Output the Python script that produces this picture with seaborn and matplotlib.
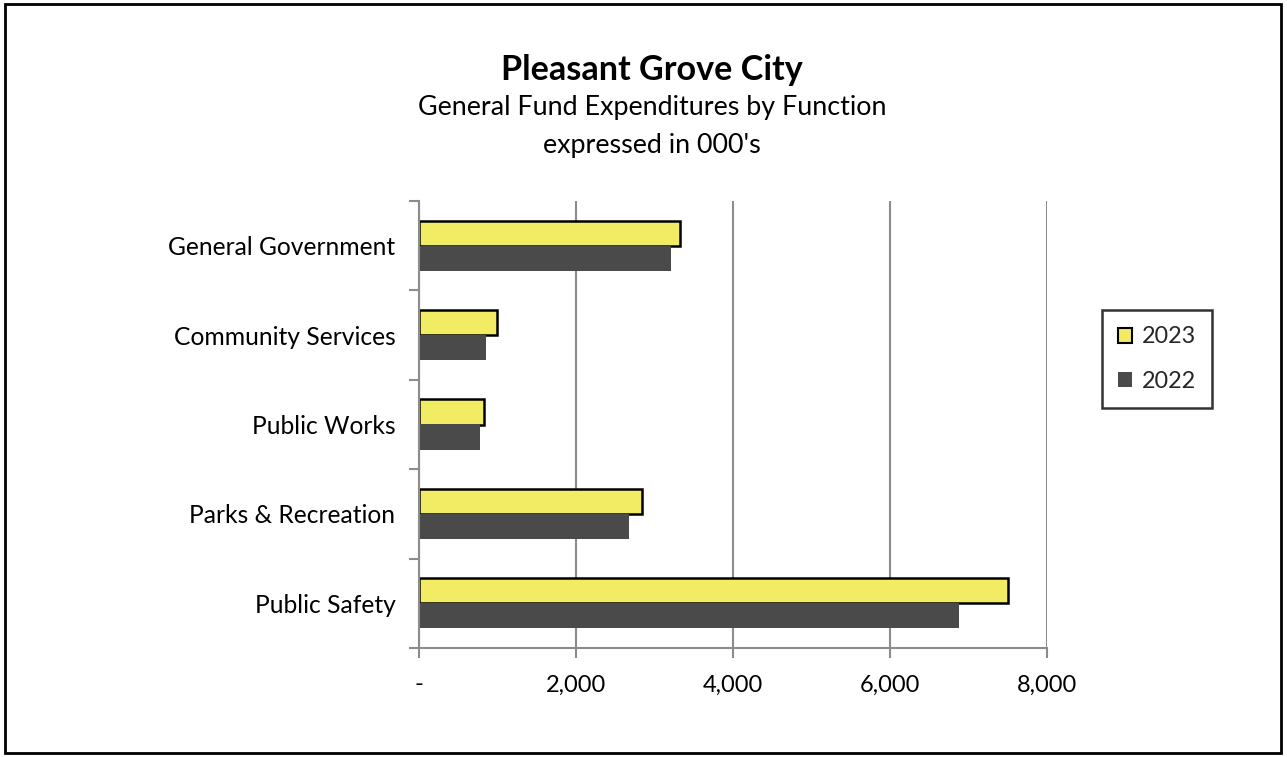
import matplotlib
matplotlib.use("Agg")
import matplotlib.pyplot as plt
import seaborn as sns
import pandas as pd
import numpy as np
from matplotlib.patches import Rectangle, Patch
from matplotlib.ticker import FixedLocator, FuncFormatter

categories = ["General Government", "Community Services", "Public Works",
              "Parks & Recreation", "Public Safety"]
values_2023 = [3325, 994, 828, 2841, 7504]
values_2022 = [3210, 854, 777, 2670, 6873]
years = ["2023", "2022"]
x_ticks = [0, 2000, 4000, 6000, 8000]

sns.set_theme(style="white")
plt.rcParams["font.family"] = ["Lato", "DejaVu Sans"]

df = pd.DataFrame({
    "Function": categories * 2,
    "Value": values_2023 + values_2022,
    "Year": ["2023"] * len(categories) + ["2022"] * len(categories),
})

yellow = "#f2ec64"
dark = "#4a4a4a"
grid_gray = "#8c8c8c"

fig = plt.figure(figsize=(12.87, 7.57), dpi=100)
ax = fig.add_axes([419 / 1287, 1 - 648 / 757, (1047 - 419) / 1287, (648 - 201) / 757])

sns.barplot(data=df, y="Function", x="Value", hue="Year", hue_order=years,
            palette=[yellow, dark], orient="h", width=0.56, gap=0,
            order=categories, ax=ax, legend=False, saturation=1)

for bar in ax.containers[0]:
    bar.set_edgecolor("black")
    bar.set_linewidth(1.8)
for bar in ax.containers[1]:
    bar.set_edgecolor("none")

ax.set_xlim(0, 8000)
ax.set_ylim(len(categories) - 0.5, -0.5)
ax.set_xlabel("")
ax.set_ylabel("")
ax.xaxis.set_major_locator(FixedLocator(x_ticks))
ax.xaxis.set_major_formatter(FuncFormatter(lambda v, p: "-" if v == 0 else f"{int(v):,}"))
ax.grid(axis="x", color=grid_gray, linewidth=1.5)
ax.set_axisbelow(True)

for s in ["top", "right"]:
    ax.spines[s].set_visible(False)
for s in ["left", "bottom"]:
    ax.spines[s].set_color(grid_gray)
    ax.spines[s].set_linewidth(1.5)

ax.tick_params(axis="x", which="major", direction="out", length=7, width=1.5,
               color=grid_gray, pad=12, labelsize=17, labelcolor="black", bottom=True)
ax.tick_params(axis="y", which="major", length=0, pad=17, labelsize=17.7, labelcolor="black")
ax.yaxis.set_minor_locator(FixedLocator(np.arange(-0.5, len(categories), 1.0)))
ax.tick_params(axis="y", which="minor", direction="out", length=7, width=1.5,
               color=grid_gray, left=True)

fig.text(652 / 1287, 1 - 70 / 757, "Pleasant Grove City", ha="center", va="center",
         fontsize=24.6, fontweight="bold", color="black")
fig.text(652 / 1287, 1 - 108 / 757, "General Fund Expenditures by Function",
         ha="center", va="center", fontsize=19.4, color="black")
fig.text(652 / 1287, 1 - 145 / 757, "expressed in 000's",
         ha="center", va="center", fontsize=19.4, color="black")

handles = [Patch(facecolor=yellow, edgecolor="black", linewidth=1.5, label="2023"),
           Patch(facecolor=dark, edgecolor="none", label="2022")]
leg = fig.legend(handles=handles, loc="center", bbox_to_anchor=(1157 / 1287, 1 - 359 / 757),
                 frameon=True, fontsize=16.8, handlelength=0.6, handleheight=0.6,
                 handletextpad=0.4, labelspacing=1.0, borderpad=0.7, fancybox=False)
leg.get_frame().set_edgecolor("black")
leg.get_frame().set_linewidth(1.8)

fig.patches.append(Rectangle((5 / 1287, 4 / 757), 1276 / 1287, 749 / 757,
                             transform=fig.transFigure, fill=False,
                             edgecolor="black", linewidth=2))

fig.savefig("out.png", dpi=100)
